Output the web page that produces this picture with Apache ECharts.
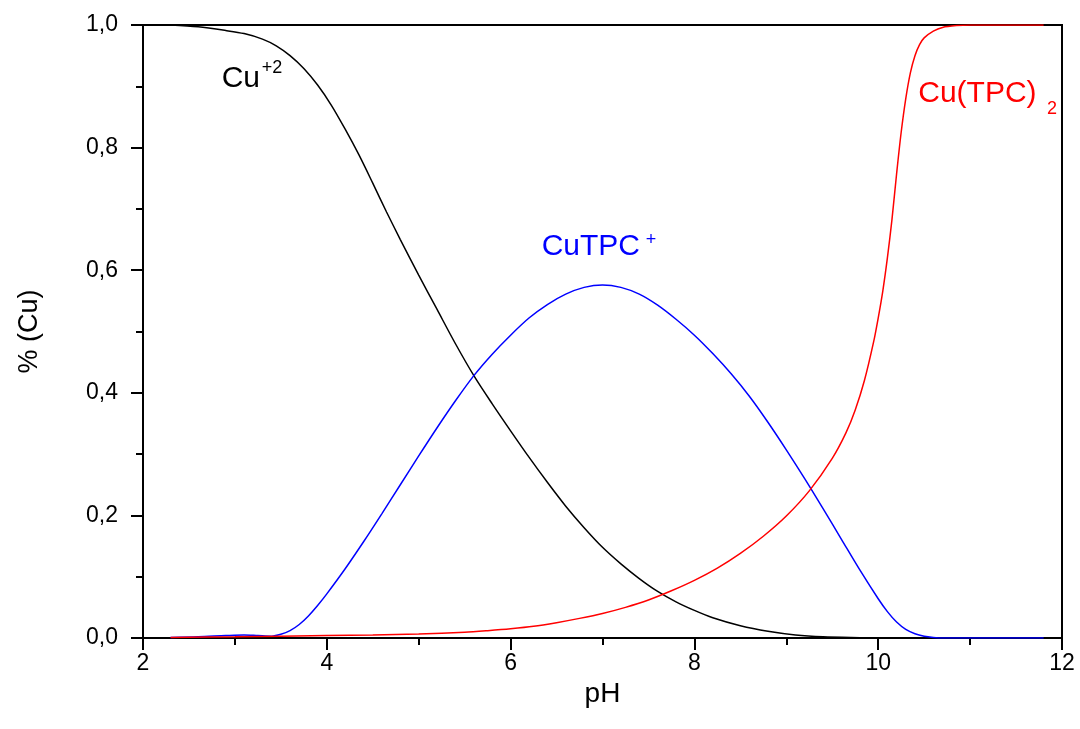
<!DOCTYPE html>
<html>
<head>
<meta charset="utf-8">
<script src="https://cdn.jsdelivr.net/npm/echarts@6/dist/echarts.min.js"></script>
<style>
html,body{margin:0;padding:0;background:#fff;}
#chart{width:1080px;height:729px;}
</style>
</head>
<body>
<div id="chart"></div>
<script>
// ---- data ----
const cuPH  = [2.3,2.6,2.9,3.1,3.3,3.45,3.6,3.75,3.9,4.05,4.2,4.35,4.5,4.65,4.8,5.0,5.2,5.4,5.6,5.8,6.0,6.2,6.4,6.6,6.8,7.0,7.2,7.4,7.6,7.8,8.0,8.2,8.5,8.8,9.1,9.4,9.8,10.0];
const cuVal = [1.0,0.997,0.991,0.986,0.977,0.966,0.950,0.929,0.902,0.869,0.830,0.788,0.742,0.695,0.650,0.592,0.536,0.480,0.428,0.382,0.338,0.295,0.254,0.215,0.180,0.148,0.121,0.097,0.076,0.059,0.045,0.033,0.020,0.011,0.005,0.002,0.0005,0.0];

const cutpcPH  = [2.3,2.6,2.9,3.1,3.25,3.4,3.5,3.6,3.7,3.8,3.9,4.0,4.2,4.4,4.6,4.8,5.0,5.2,5.4,5.6,5.8,6.0,6.2,6.4,6.6,6.8,7.0,7.2,7.4,7.6,7.8,8.0,8.2,8.4,8.6,8.8,9.0,9.2,9.4,9.6,9.8,10.0,10.1,10.2,10.3,10.4,10.5,10.6,10.7,11.8];
const cutpcVal = [0.001,0.002,0.004,0.005,0.004,0.003,0.006,0.012,0.022,0.036,0.053,0.072,0.113,0.157,0.203,0.250,0.297,0.343,0.387,0.428,0.463,0.494,0.522,0.544,0.561,0.572,0.576,0.572,0.561,0.543,0.520,0.494,0.464,0.431,0.394,0.352,0.307,0.260,0.211,0.161,0.111,0.064,0.043,0.026,0.014,0.007,0.003,0.001,0.0,0.0];

const cu2PH  = [2.3,3.0,4.0,4.5,5.0,5.5,5.75,6.0,6.25,6.5,6.75,7.0,7.25,7.5,7.75,8.0,8.25,8.5,8.75,9.0,9.25,9.5,9.65,9.75,9.85,9.95,10.0,10.05,10.1,10.15,10.2,10.25,10.3,10.35,10.4,10.45,10.5,10.6,10.7,10.85,11.0,11.8];
const cu2Val = [0.001,0.002,0.004,0.005,0.0065,0.0095,0.012,0.015,0.019,0.025,0.032,0.040,0.050,0.062,0.077,0.094,0.114,0.138,0.166,0.199,0.240,0.293,0.335,0.372,0.420,0.483,0.522,0.566,0.620,0.683,0.757,0.825,0.880,0.922,0.950,0.968,0.979,0.990,0.996,0.999,1.0,1.0];

const xTicks = [2,4,6,8,10,12];
const yTicks = [0,0.2,0.4,0.6,0.8,1.0];

const seriesNames = ['Cu+2','CuTPC+','Cu(TPC)2'];

// annotation texts (main, script) anchored in data coordinates
const annotations = [
  {main:'Cu', script:'+2', mainAt:[2.856,0.912], scriptAt:[3.292,0.930], color:'#000000'},
  {main:'CuTPC', script:'+', mainAt:[6.338,0.638], scriptAt:[7.47,0.649], color:'#0000ff'},
  {main:'Cu(TPC)', script:'2', mainAt:[10.436,0.888], scriptAt:[11.837,0.863], color:'#ff0000'}
];

const pairs = (xs, ys) => xs.map((x,i)=>[x, ys[i]]);

const chart = echarts.init(document.getElementById('chart'), null, {renderer:'canvas'});

const axisCommon = {
  axisLine:{show:true, onZero:false, lineStyle:{color:'#000', width:2}},
  axisTick:{show:true, inside:false, length:12, lineStyle:{color:'#000', width:2}},
  minorTick:{show:true, splitNumber:2, length:7, lineStyle:{color:'#000', width:2}},
  splitLine:{show:false},
  minorSplitLine:{show:false}
};

const lineSeries = (name, xs, ys, color) => ({
  name:name, type:'line', data:pairs(xs,ys), showSymbol:false, symbol:'none',
  smooth:0.3, lineStyle:{color:color, width:1.5}, itemStyle:{color:color}
});

chart.setOption({
  animation:false,
  backgroundColor:'#fff',
  grid:{left:143, right:18, top:25, bottom:91, show:true, borderColor:'#000', borderWidth:2, backgroundColor:'transparent'},
  xAxis:Object.assign({
    type:'value', min:xTicks[0], max:xTicks[xTicks.length-1], interval:2,
    name:'pH', nameLocation:'middle', nameGap:40,
    nameTextStyle:{fontFamily:'Liberation Sans', fontSize:28, color:'#000'},
    axisLabel:{fontFamily:'Liberation Sans', fontSize:23, color:'#000', margin:14}
  }, axisCommon),
  yAxis:Object.assign({
    type:'value', min:yTicks[0], max:yTicks[yTicks.length-1], interval:0.2,
    name:'% (Cu)', nameLocation:'middle', nameGap:100, nameRotate:90,
    nameTextStyle:{fontFamily:'Liberation Sans', fontSize:27, color:'#000'},
    axisLabel:{fontFamily:'Liberation Sans', fontSize:23, color:'#000', margin:25,
      formatter:v=>v.toFixed(1).replace('.',',')}
  }, axisCommon),
  series:[
    lineSeries(seriesNames[0], cuPH, cuVal, '#000000'),
    lineSeries(seriesNames[1], cutpcPH, cutpcVal, '#0000ff'),
    lineSeries(seriesNames[2], cu2PH, cu2Val, '#ff0000')
  ]
});

const graphics = [];
annotations.forEach(a=>{
  const p1 = chart.convertToPixel({gridIndex:0}, a.mainAt);
  const p2 = chart.convertToPixel({gridIndex:0}, a.scriptAt);
  graphics.push({type:'text', x:p1[0], y:p1[1], style:{text:a.main, fill:a.color, fontFamily:'Liberation Sans', fontSize:30, align:'left', verticalAlign:'middle'}});
  graphics.push({type:'text', x:p2[0], y:p2[1], style:{text:a.script, fill:a.color, fontFamily:'Liberation Sans', fontSize:18, align:'left', verticalAlign:'middle'}});
});
chart.setOption({graphic:graphics});
</script>
</body>
</html>
